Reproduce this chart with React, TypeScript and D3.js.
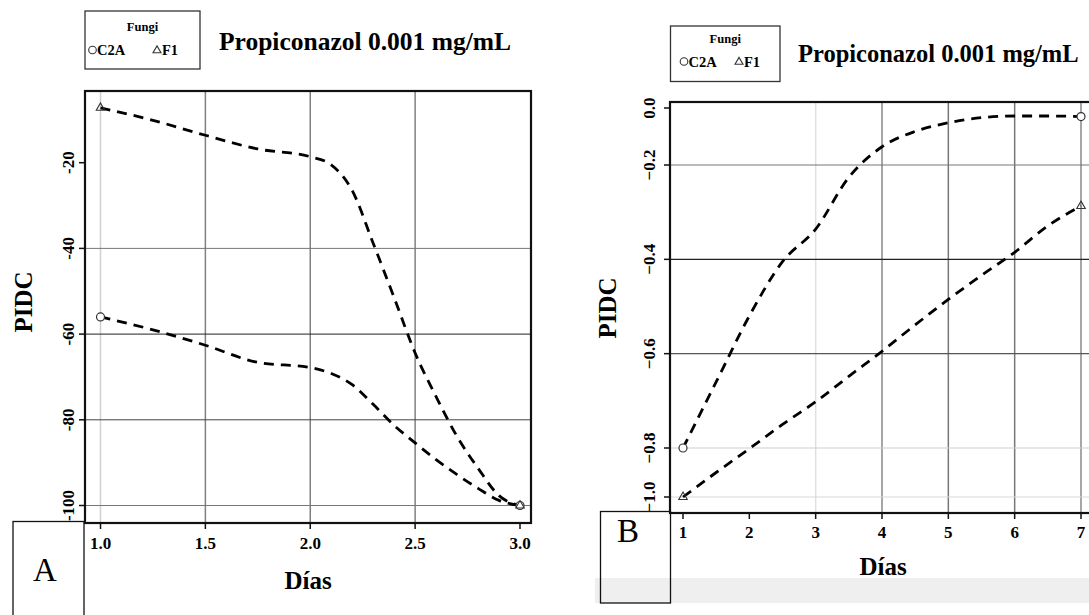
import React from "react";
import * as d3 from "d3";

// ---------- Data ----------
const titleText = "Propiconazol 0.001 mg/mL";
const legendTitle = "Fungi";
const seriesNames = ["C2A", "F1"];

// Panel A (days 1..3)
const aDias = [1.0, 1.25, 1.5, 1.75, 2.0, 2.1, 2.2, 2.3, 2.4, 2.5, 2.6, 2.7, 2.8, 2.9, 3.0];
const aC2A = [-56.0, -59.0, -62.6, -66.6, -67.8, -69.2, -71.8, -76.4, -81.3, -85.4, -89.3, -92.8, -96.0, -98.8, -100];
const aF1 = [-7.2, -10.1, -13.6, -16.8, -18.6, -20.5, -26.5, -38.8, -51.5, -64.4, -74.6, -83.9, -91.3, -97.7, -100];
const aMarkDias = [1, 3];
const aMarkC2A = [-56.0, -100];
const aMarkF1 = [-7.2, -100];
const aXTicks = [1.0, 1.5, 2.0, 2.5, 3.0];
const aYTicks = [-20, -40, -60, -80, -100];

// Panel B (days 1..7)
const bDias = [1, 1.5, 2, 2.5, 3, 3.5, 4, 4.5, 5, 5.5, 6, 6.5, 7];
const bC2A = [-0.8, -0.66, -0.52, -0.405, -0.336, -0.226, -0.136, -0.082, -0.052, -0.034, -0.028, -0.028, -0.03];
const bF1 = [-1.0, -0.9, -0.803, -0.75, -0.702, -0.648, -0.595, -0.539, -0.485, -0.434, -0.385, -0.329, -0.287];
const bMarkDias = [1, 7];
const bMarkC2A = [-0.8, -0.03];
const bMarkF1 = [-1.0, -0.287];
const bXTicks = [1, 2, 3, 4, 5, 6, 7];
const bYTicks = [0.0, -0.2, -0.4, -0.6, -0.8, -1.0];

const FONT = "'Liberation Serif', 'Times New Roman', serif";

type PanelCfg = {
  frame: { x0: number; x1: number; y0: number; y1: number };
  x: d3.ScaleLinear<number, number>;
  y: d3.ScaleLinear<number, number>;
  dias: number[];
  c2a: number[];
  f1: number[];
  markDias: number[];
  markC2A: number[];
  markF1: number[];
  xTicks: number[];
  yTicks: number[];
  xFmt: (v: number) => string;
  yFmt: (v: number) => string;
  vGrid: { v: number; c: string; w: number }[];
  hGrid: { v: number; c: string; w: number }[];
  yLabelX: number;
  xLabelY: number;
  pidc: { x: number; y: number };
  dias_: { x: number; y: number };
  legend: { x: number; y: number; w: number; h: number; fy: number; ry: number; cx: number; c2aX: number; tx: number; f1X: number };
  title: { x: number; y: number; size: number };
  box: { x: number; y: number; w: number; h: number; letter: string; lx: number; ly: number };
  clipId: string;
};

function Triangle({ cx, cy, s, w = 1 }: { cx: number; cy: number; s: number; w?: number }) {
  const h = s * 0.866;
  const p = `M${cx},${cy - (2 * h) / 3} L${cx + s / 2},${cy + h / 3} L${cx - s / 2},${cy + h / 3} Z`;
  return <path d={p} fill="none" stroke="#333" strokeWidth={w} />;
}

function Panel({ c }: { c: PanelCfg }) {
  const { frame, x, y } = c;
  const line = d3
    .line<number>()
    .x((_, i) => x(c.dias[i]))
    .y((v) => y(v))
    .curve(d3.curveMonotoneX);
  const L = c.legend;
  return (
    <g>
      <defs>
        <clipPath id={c.clipId}>
          <rect x={frame.x0} y={frame.y0} width={frame.x1 - frame.x0} height={frame.y1 - frame.y0} />
        </clipPath>
      </defs>
      {c.vGrid.map((g, i) => (
        <line key={"v" + i} x1={x(g.v)} x2={x(g.v)} y1={frame.y0} y2={frame.y1} stroke={g.c} strokeWidth={g.w} />
      ))}
      {c.hGrid.map((g, i) => (
        <line key={"h" + i} x1={frame.x0} x2={frame.x1} y1={y(g.v)} y2={y(g.v)} stroke={g.c} strokeWidth={g.w} />
      ))}
      <g clipPath={`url(#${c.clipId})`}>
        <path d={line(c.c2a) || ""} fill="none" stroke="#000" strokeWidth={2.8} strokeDasharray="10,7" />
        <path d={line(c.f1) || ""} fill="none" stroke="#000" strokeWidth={2.8} strokeDasharray="10,7" />
        {c.markDias.map((d, i) => (
          <circle key={"c" + i} cx={x(d)} cy={y(c.markC2A[i])} r={4} fill="white" stroke="#333" strokeWidth={1.2} />
        ))}
        {c.markDias.map((d, i) => (
          <Triangle key={"t" + i} cx={x(d)} cy={y(c.markF1[i])} s={8.5} w={1.1} />
        ))}
      </g>
      <rect x={frame.x0} y={frame.y0} width={frame.x1 - frame.x0} height={frame.y1 - frame.y0} fill="none" stroke="#111" strokeWidth={2.2} />
      {c.xTicks.map((t, i) => (
        <g key={"xt" + i}>
          <line x1={x(t)} x2={x(t)} y1={frame.y1} y2={frame.y1 + 6} stroke="#111" strokeWidth={1.5} />
          <text x={x(t)} y={c.xLabelY} textAnchor="middle" dominantBaseline="central" fontFamily={FONT} fontWeight="bold" fontSize={17}>
            {c.xFmt(t)}
          </text>
        </g>
      ))}
      {c.yTicks.map((t, i) => (
        <g key={"yt" + i}>
          <line x1={frame.x0 - 6} x2={frame.x0} y1={y(t)} y2={y(t)} stroke="#111" strokeWidth={1.5} />
          <text
            transform={`translate(${c.yLabelX},${y(t)}) rotate(-90)`}
            textAnchor="middle"
            dominantBaseline="central"
            fontFamily={FONT}
            fontWeight="bold"
            fontSize={17}
          >
            {c.yFmt(t)}
          </text>
        </g>
      ))}
      <text
        transform={`translate(${c.pidc.x},${c.pidc.y}) rotate(-90)`}
        textAnchor="middle"
        dominantBaseline="central"
        fontFamily={FONT}
        fontWeight="bold"
        fontSize={25}
      >
        PIDC
      </text>
      <text x={c.dias_.x} y={c.dias_.y} textAnchor="middle" dominantBaseline="central" fontFamily={FONT} fontWeight="bold" fontSize={25}>
        Días
      </text>
      <rect x={L.x} y={L.y} width={L.w} height={L.h} fill="white" stroke="#333" strokeWidth={1.3} />
      <text x={L.x + L.w / 2} y={L.fy} textAnchor="middle" dominantBaseline="central" fontFamily={FONT} fontWeight="bold" fontSize={12.5}>
        {legendTitle}
      </text>
      <circle cx={L.cx} cy={L.ry} r={3.8} fill="none" stroke="#333" strokeWidth={1.1} />
      <text x={L.c2aX} y={L.ry} dominantBaseline="central" fontFamily={FONT} fontWeight="bold" fontSize={14.5}>
        {seriesNames[0]}
      </text>
      <Triangle cx={L.tx} cy={L.ry + 0.5} s={8} w={1.1} />
      <text x={L.f1X} y={L.ry} dominantBaseline="central" fontFamily={FONT} fontWeight="bold" fontSize={14.5}>
        {seriesNames[1]}
      </text>
      <text x={c.title.x} y={c.title.y} fontFamily={FONT} fontWeight="bold" fontSize={c.title.size}>
        {titleText}
      </text>
      <rect x={c.box.x} y={c.box.y} width={c.box.w} height={c.box.h} fill="none" stroke="#111" strokeWidth={1.3} />
      <text x={c.box.lx} y={c.box.ly} textAnchor="middle" dominantBaseline="central" fontFamily={FONT} fontSize={33}>
        {c.box.letter}
      </text>
    </g>
  );
}

export default function App() {
  const aX = d3.scaleLinear().domain([1, 3]).range([100.5, 520]);
  const aY = d3.scaleLinear().domain([-20, -100]).range([162.7, 505.5]);
  const bX = d3.scaleLinear().domain([1, 7]).range([683, 1081]);
  const bY = d3.scaleLinear().domain([-1.0, -0.8, -0.2, 0.0]).range([497, 448, 165, 108]);

  const A: PanelCfg = {
    frame: { x0: 85, x1: 531, y0: 91, y1: 523 },
    x: aX,
    y: aY,
    dias: aDias,
    c2a: aC2A,
    f1: aF1,
    markDias: aMarkDias,
    markC2A: aMarkC2A,
    markF1: aMarkF1,
    xTicks: aXTicks,
    yTicks: aYTicks,
    xFmt: d3.format(".1f"),
    yFmt: (v) => String(v),
    vGrid: [
      { v: 1.0, c: "#d0d0d0", w: 1.5 },
      { v: 1.5, c: "#808080", w: 1.5 },
      { v: 2.0, c: "#808080", w: 1.5 },
      { v: 2.5, c: "#808080", w: 1.5 },
    ],
    hGrid: [
      { v: -40, c: "#777", w: 1 },
      { v: -60, c: "#222", w: 1 },
      { v: -80, c: "#444", w: 1 },
      { v: -100, c: "#777", w: 1.2 },
    ],
    yLabelX: 68,
    xLabelY: 543,
    pidc: { x: 23, y: 302 },
    dias_: { x: 308, y: 580 },
    legend: { x: 85, y: 11, w: 115, h: 58, fy: 26.5, ry: 50, cx: 92.5, c2aX: 97, tx: 157, f1X: 162 },
    title: { x: 219, y: 50, size: 25.5 },
    box: { x: 13, y: 521.5, w: 71, h: 110, letter: "A", lx: 45, ly: 570 },
    clipId: "clipA",
  };

  const B: PanelCfg = {
    frame: { x0: 670, x1: 1100, y0: 102, y1: 513 },
    x: bX,
    y: bY,
    dias: bDias,
    c2a: bC2A,
    f1: bF1,
    markDias: bMarkDias,
    markC2A: bMarkC2A,
    markF1: bMarkF1,
    xTicks: bXTicks,
    yTicks: bYTicks,
    xFmt: (v) => String(v),
    yFmt: d3.format(".1f"),
    vGrid: [
      { v: 3, c: "#e0e0e0", w: 1.5 },
      { v: 4, c: "#888", w: 1.5 },
      { v: 5, c: "#777", w: 1.5 },
      { v: 6, c: "#777", w: 1.5 },
      { v: 7, c: "#888", w: 1.5 },
    ],
    hGrid: [
      { v: -0.2, c: "#777", w: 1.2 },
      { v: -0.4, c: "#222", w: 1.2 },
      { v: -0.6, c: "#555", w: 1.2 },
      { v: -0.8, c: "#cfcfcf", w: 1.2 },
      { v: -1.0, c: "#d8d8d8", w: 1 },
    ],
    yLabelX: 649,
    xLabelY: 532,
    pidc: { x: 607.5, y: 308 },
    dias_: { x: 883, y: 566 },
    legend: { x: 670.5, y: 26, w: 109.5, h: 55.5, fy: 38.5, ry: 61.5, cx: 684, c2aX: 688.5, tx: 739, f1X: 744 },
    title: { x: 798, y: 62, size: 24.5 },
    box: { x: 600.5, y: 511.5, w: 70, h: 91.5, letter: "B", lx: 628, ly: 531 },
    clipId: "clipB",
  };

  return (
    <svg width={1089} height={615} style={{ position: "absolute", left: 0, top: 0, background: "white" }}>
      <rect x={0} y={0} width={1089} height={615} fill="white" />
      <rect x={595} y={578} width={494} height={25} fill="#efefef" />
      <Panel c={A} />
      <Panel c={B} />
    </svg>
  );
}
